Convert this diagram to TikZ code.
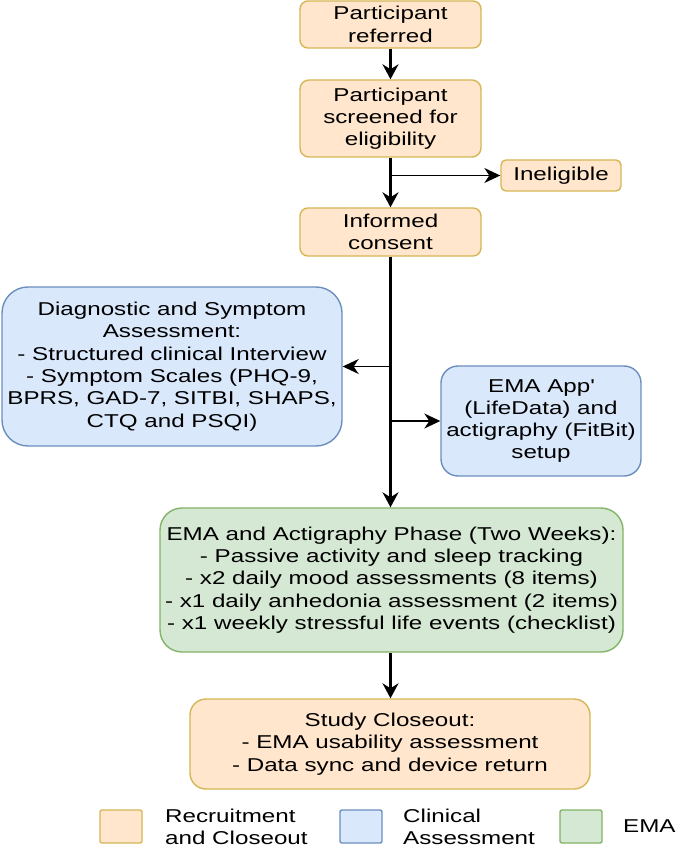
\documentclass[tikz,border=0pt]{standalone}
\usepackage{fontspec}
\setmainfont[FakeStretch=1.3]{Liberation Sans}
\usetikzlibrary{arrows.meta}
\definecolor{orF}{HTML}{FFE6CC}
\definecolor{orD}{HTML}{D6B656}
\definecolor{blF}{HTML}{DAE8FC}
\definecolor{blD}{HTML}{6C8EBF}
\definecolor{grF}{HTML}{D5E8D4}
\definecolor{grD}{HTML}{82B366}
\begin{document}
\begin{tikzpicture}[x=1pt,y=-1pt,
  box/.style={draw, line width=1.4pt, align=center, inner sep=0pt,
    font=\fontsize{18.6}{22.3}\selectfont},
  rec/.style={box, fill=orF, draw=orD},
  cli/.style={box, fill=blF, draw=blD},
  ema/.style={box, fill=grF, draw=grD},
  legtext/.style={anchor=west, align=left, inner sep=0pt,
    font=\fontsize{18.6}{22.3}\selectfont},
  arrv/.style={line width=2.6pt, -{Stealth[length=15pt,width=16pt,inset=5pt]}},
  arrh/.style={line width=1.6pt, -{Stealth[length=16pt,width=15pt,inset=5pt]}}]
\useasboundingbox (0,0) rectangle (680,850);
\fill[white] (0,0) rectangle (680,850);

\node[rec, minimum width=181pt, minimum height=47pt, rounded corners=8pt] (b1) at (390.5,24.5) {Participant\\referred};
\node[rec, minimum width=181pt, minimum height=77pt, rounded corners=9pt] (b2) at (390.5,118.5) {Participant\\screened for\\eligibility};
\node[rec, minimum width=120pt, minimum height=31pt, rounded corners=5pt] (inel) at (561,175.5) {Ineligible};
\node[rec, minimum width=181pt, minimum height=48pt, rounded corners=8pt] (b3) at (390.5,232) {Informed\\consent};
\node[cli, minimum width=340pt, minimum height=159pt, rounded corners=26pt] (diag) at (172,366.5)
  {Diagnostic and Symptom\\Assessment:\\- Structured clinical Interview\\- Symptom Scales (PHQ-9,\\BPRS, GAD-7, SITBI, SHAPS,\\CTQ and PSQI)};
\node[cli, minimum width=200pt, minimum height=110pt, rounded corners=17pt] (app) at (541,421)
  {EMA App\textquotesingle\\(LifeData) and\\actigraphy (FitBit)\\setup};
\node[ema, minimum width=463pt, minimum height=144pt, rounded corners=22pt] (green) at (391.5,580)
  {EMA and Actigraphy Phase (Two Weeks):\\- Passive activity and sleep tracking\\- x2 daily mood assessments (8 items)\\- x1 daily anhedonia assessment (2 items)\\- x1 weekly stressful life events (checklist)};
\node[rec, minimum width=400pt, minimum height=90pt, rounded corners=16pt] (close) at (390,744)
  {Study Closeout:\\- EMA usability assessment\\- Data sync and device return};

\node[rec, minimum width=42pt, minimum height=33pt, rounded corners=2pt] (lg1) at (121,826.5) {};
\node[legtext] (lt1) at (165,826.5) {Recruitment\\and Closeout};
\node[cli, minimum width=42pt, minimum height=33pt, rounded corners=2pt] (lg2) at (361,826.5) {};
\node[legtext] (lt2) at (403,826.5) {Clinical\\Assessment};
\node[ema, minimum width=42pt, minimum height=33pt, rounded corners=2pt] (lg3) at (581,826.5) {};
\node[legtext] (lt3) at (623,826.5) {EMA};

\draw[arrv] (b1) -- (b2);
\draw[arrv] (b2) -- (b3);
\coordinate (j1) at (b2.south |- inel.west);
\draw[arrh] (j1) -- (inel.west);
\coordinate (gtop) at (b3.south |- green.north);
\draw[arrv] (b3.south) -- (gtop);
\coordinate (j2) at (b3.south |- diag.east);
\draw[arrh] (j2) -- (diag.east);
\coordinate (j3) at (b3.south |- app.west);
\draw[arrh] (j3) -- (app.west);
\coordinate (ctop) at (gtop |- close.north);
\draw[arrv] (gtop |- green.south) -- (ctop);
\end{tikzpicture}
\end{document}
